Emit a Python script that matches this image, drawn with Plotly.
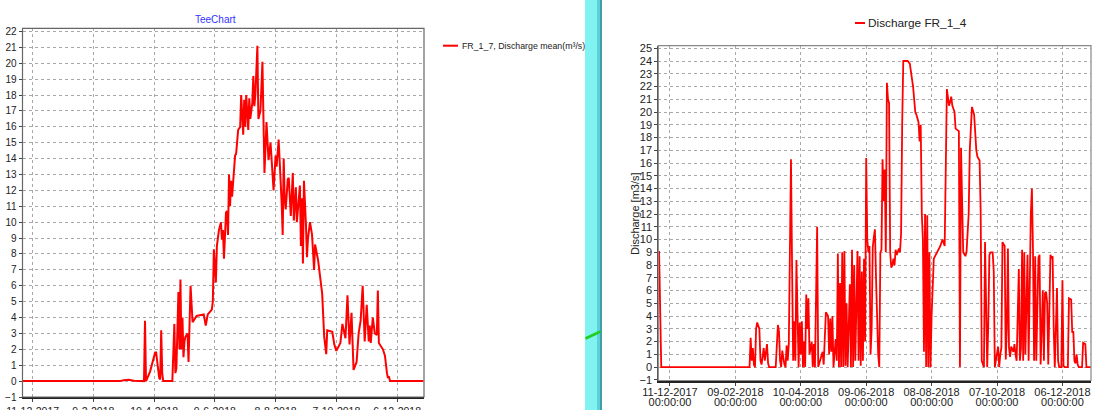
import pandas as pd
import plotly.graph_objects as go

# ---------------- data ----------------
BASE_DATE = "2017-12-01"   # day 0 of the day-offset arrays

# Left chart: FR_1_7, Discharge mean (m3/s)
fr17_day = [0, 96, 100, 105, 110, 119, 120, 121, 122, 126, 131, 132, 134, 135, 136, 137, 138, 139,
            148, 150, 151, 152, 154, 155, 156, 157, 158, 159, 160, 161, 163, 164, 166, 168, 172,
            179, 181, 183, 187, 188, 189, 191, 192, 194, 196, 197, 198, 199, 201, 202, 203, 204,
            205, 206, 207, 208, 210, 211, 213, 215, 216, 218, 219, 220, 221, 223, 224, 225, 227,
            228, 229, 230, 232, 233, 235, 236, 237, 238, 239, 241, 242, 243, 245, 246, 248, 250,
            251, 253, 254, 256, 257, 258, 259, 260, 262, 263, 265, 267, 268, 270, 271, 274, 275,
            276, 277, 278, 280, 281, 282, 284, 286, 288, 289, 292, 296, 298, 300, 301, 306, 308,
            310, 314, 316, 319, 321, 323, 325, 327, 330, 332, 334, 336, 338, 340, 342, 343, 344,
            346, 348, 350, 351, 352, 356, 358, 360, 361, 362, 363, 396]
fr17_val = [0, 0, 0.05, 0.08, 0.02, 0, 0, 3.8, 0, 0.6, 1.8, 1.8, 0.8, 0.2, 0.1, 3.2, 0.5, 0,
            0, 3.6, 0.5, 0.8, 5.6, 2.0, 6.4, 2.0, 4.0, 1.5, 2.5, 2.8, 3.0, 1.2, 6.0, 3.7, 4.1,
            4.2, 3.5, 4.2, 4.5, 5.0, 8.3, 6.2, 8.5, 9.5, 10.0, 8.9, 9.5, 7.7, 10.6, 10.7, 9.2, 13.0,
            11.0, 12.6, 11.6, 12.5, 14.2, 14.3, 15.8, 16.0, 18.0, 15.5, 17.7, 16.0, 18.0, 15.8, 17.8, 16.5, 17.5,
            19.2, 17.3, 18.0, 21.1, 16.5, 17.0, 18.5, 20.1, 16.5, 13.1, 16.3, 15.0, 13.9, 15.0, 14.0, 12.0, 14.2,
            13.5, 15.2, 14.0, 11.2, 9.2, 14.0, 11.5, 10.8, 12.7, 12.8, 10.4, 13.1, 10.1, 12.2, 10.0, 12.3, 8.5,
            11.5, 7.4, 12.6, 9.8, 7.8, 9.0, 10.0, 9.2, 7.0, 8.6, 7.6, 5.5, 2.8, 1.7, 3.2, 3.1, 2.3,
            1.9, 2.4, 3.6, 2.7, 5.4, 2.3, 4.3, 0.7, 1.2, 3.0, 3.8, 6.0, 2.5, 4.8, 2.5, 3.5, 2.4,
            4.0, 3.0, 2.9, 5.7, 2.4, 2.0, 1.6, 0.5, 0.2, 0.3, 0, 0]

# Right chart: Discharge FR_1_4 (m3/s)
fr14_day = [0, 1, 2, 83, 84, 85, 86, 87, 88, 89, 90, 92, 93, 94, 96, 97, 99, 100, 101,
            107, 109, 110, 111, 112, 113, 115, 116, 117, 118, 119, 120, 121, 122, 123, 124, 125,
            126, 127, 128, 129, 130, 131, 132, 133, 134, 135, 136, 137, 138, 140, 141, 142, 143,
            145, 146, 150, 151, 153, 155, 156, 157, 158, 159, 160, 162, 163, 164, 165, 166, 167,
            168, 169, 170, 171, 172, 173, 175, 176, 177, 178, 179, 180, 182, 183, 184, 185, 186,
            187, 188, 189, 190, 191, 192, 193, 194, 195, 196, 197, 198, 199, 200, 201, 202, 203,
            204, 205, 206, 207, 208, 209, 210, 211, 212, 213, 214, 215, 216, 217, 218, 219, 220,
            221, 222, 223, 224, 228, 230, 233, 235, 236, 237, 238, 239, 240, 241, 242, 243, 244,
            245, 246, 247, 248, 249, 250, 252, 255, 258, 260, 262, 264, 265, 266, 267, 268, 269,
            270, 271, 272, 274, 275, 276, 277, 278, 279, 281, 282, 284, 285, 287, 289, 291, 292,
            294, 295, 296, 297, 298, 299, 300, 301, 302, 303, 304, 306, 307, 308, 311, 312, 313,
            314, 315, 316, 317, 318, 319, 320, 321, 322, 323, 325, 326, 327, 328, 330, 331, 332,
            333, 334, 335, 336, 337, 338, 339, 340, 341, 342, 343, 344, 345, 346, 347, 348, 349,
            350, 351, 352, 353, 354, 355, 356, 357, 358, 359, 360, 361, 362, 363, 365, 366, 367,
            369, 370, 371, 372, 375, 376, 378, 379, 380, 381, 382, 383, 384, 385, 388, 389, 391,
            392, 396]
fr14_val = [9.1, 4.5, 0, 0, 2.3, 0.5, 1.5, 0.2, 0, 3.0, 3.5, 3.0, 0.5, 0.2, 1.5, 0.5, 1.8, 0.3, 0,
            0, 3.3, 2.8, 0.5, 0, 1.3, 0.2, 0, 1.7, 0.5, 1.8, 8.5, 16.3, 8.0, 0.5, 3.6, 0.5,
            8.4, 3.0, 0, 3.5, 1.0, 3.6, 0, 2.0, 0, 5.7, 3.0, 5.4, 1.0, 2.0, 0, 1.8, 0,
            11.0, 0, 1.2, 0.2, 4.3, 4.0, 1.0, 3.8, 1.2, 4.0, 0, 2.2, 0.5, 8.9, 0, 6.6, 0,
            9.0, 0, 9.1, 0.1, 5.0, 0, 6.5, 0, 9.2, 0, 8.0, 0.5, 9.1, 0.5, 8.7, 0.1, 7.5,
            0.5, 8.5, 2.0, 16.4, 10.0, 9.0, 9.5, 1.0, 3.0, 9.4, 10.2, 10.8, 7.0, 3.0, 1.0, 0, 9.0,
            9.2, 16.3, 13.0, 15.5, 9.0, 22.3, 21.0, 20.7, 9.0, 7.8, 8.0, 8.5, 8.0, 9.2, 8.8, 9.0, 9.3,
            9.0, 10.5, 19.0, 24.0, 24.0, 23.8, 22.0, 20.0, 19.8, 19.5, 19.2, 17.7, 19.0, 12.0, 10.0, 1.2, 12.0,
            0, 11.9, 0, 9.0, 0, 4.0, 8.5, 9.0, 9.5, 10.0, 9.5, 21.8, 21.0, 20.5, 20.8, 21.2, 20.5,
            20.3, 20.0, 18.7, 18.6, 18.5, 0, 17.2, 13.0, 9.0, 8.7, 9.0, 12.0, 17.0, 20.4, 19.8, 17.0, 16.5,
            16.2, 12.2, 0.5, 0.2, 0, 9.8, 5.0, 0, 3.5, 8.8, 9.0, 9.0, 7.5, 0, 1.6, 0, 1.0,
            1.5, 9.8, 9.6, 9.5, 0.6, 3.0, 9.3, 1.5, 0.8, 1.6, 1.2, 1.8, 1.0, 0.5, 7.7, 0.5, 1.5,
            9.2, 0.5, 9.0, 1.0, 5.0, 8.8, 0.5, 9.2, 12.0, 14.0, 9.2, 0.5, 8.7, 0.5, 4.0, 8.6, 8.8,
            0.2, 3.0, 6.0, 0.5, 5.8, 5.9, 5.0, 0.2, 4.0, 8.8, 8.5, 8.7, 3.0, 0, 6.2, 0.5, 0,
            0, 6.8, 0.1, 0, 0, 5.4, 5.3, 2.7, 2.8, 0.5, 0.3, 1.0, 0.2, 0, 0, 1.9, 1.8,
            0, 0]

tick_dates = ["2017-12-11", "2018-02-09", "2018-04-10", "2018-06-09", "2018-08-08", "2018-10-07", "2018-12-06"]
left_ticktext = ["11-12-2017", "9-2-2018", "10-4-2018", "9-6-2018", "8-8-2018", "7-10-2018", "6-12-2018"]
right_ticktext = ["11-12-2017", "09-02-2018", "10-04-2018", "09-06-2018", "08-08-2018", "07-10-2018", "06-12-2018"]
right_timetext = ["00:00:00"] * 7

left_title = "TeeChart"
left_legend = "FR_1_7, Discharge mean(m³/s)"
right_legend = "Discharge FR_1_4"
right_ytitle = "Discharge [m3/s]"

# ---------------- figure ----------------
W, H = 1104, 410
base = pd.Timestamp(BASE_DATE)
x17 = base + pd.to_timedelta(fr17_day, unit="D")
x14 = base + pd.to_timedelta(fr14_day, unit="D")

def px(x):
    return x / W

def py(y):
    return 1 - y / H

FONT = "Liberation Sans, Arial, sans-serif"
RED = "#ff0000"

fig = go.Figure()
fig.add_trace(go.Scatter(x=x17, y=fr17_val, mode="lines", line=dict(color=RED, width=2),
                         xaxis="x", yaxis="y", showlegend=False))
fig.add_trace(go.Scatter(x=x14, y=fr14_val, mode="lines", line=dict(color=RED, width=1.8),
                         xaxis="x2", yaxis="y2", showlegend=False))
# invisible trace carrying the second line of the right-hand date labels
fig.add_trace(go.Scatter(x=[x14[0]], y=[fr14_val[0]], mode="lines", line=dict(width=0),
                         opacity=0, xaxis="x3", yaxis="y2", showlegend=False, hoverinfo="skip"))

grid = dict(showgrid=True, gridcolor="#a8a8a8", griddash="dot", gridwidth=1, zeroline=False,
            automargin=False)

RIGHT_RANGE = ["2017-11-30 07:00", "2019-01-01 05:00"]

fig.update_layout(
    template="none",
    width=W, height=H, margin=dict(l=0, r=0, t=0, b=0, pad=0), autosize=False,
    paper_bgcolor="white", plot_bgcolor="white",
    font=dict(family=FONT, size=10, color="#222"),
    xaxis=dict(domain=[px(22.5), px(424)], type="date",
               range=["2017-12-01 00:00", "2019-01-01 14:00"],
               tickmode="array", tickvals=tick_dates, ticktext=left_ticktext,
               showline=True, linecolor="#222", linewidth=2,
               ticks="outside", ticklen=3, tickcolor="#444",
               tickfont=dict(size=10.5, color="#222"), anchor="y", **grid),
    yaxis=dict(domain=[py(397), py(28.3)], range=[-1, 22.2],
               tickmode="linear", tick0=-1, dtick=1,
               showline=True, linecolor="#444", linewidth=1,
               ticks="outside", ticklen=3, tickcolor="#444",
               tickfont=dict(size=10, color="#222"), anchor="x", **grid),
    xaxis2=dict(domain=[px(658.3), px(1091)], type="date", range=RIGHT_RANGE,
                tickmode="array", tickvals=tick_dates, ticktext=right_ticktext,
                showline=True, linecolor="#222", linewidth=2,
                ticks="outside", ticklen=3, tickcolor="#444", ticklabelstandoff=-3,
                tickfont=dict(size=11, color="#222"), anchor="y2", **grid),
    xaxis3=dict(domain=[px(658.3), px(1091)], type="date", range=RIGHT_RANGE,
                overlaying="x2", anchor="y2", side="bottom",
                tickmode="array", tickvals=tick_dates, ticktext=right_timetext,
                showline=False, showgrid=False, zeroline=False, automargin=False,
                ticks="outside", ticklen=3, tickcolor="rgba(0,0,0,0)", ticklabelstandoff=8,
                tickfont=dict(size=11, color="#222")),
    yaxis2=dict(domain=[py(380.5), py(45.7)], range=[-1.05, 25.2],
                tickmode="linear", tick0=-1, dtick=1,
                showline=True, linecolor="#444", linewidth=1,
                ticks="outside", ticklen=3, tickcolor="#444",
                tickfont=dict(size=11, color="#222"), anchor="x2", **grid),
)

shapes = [
    # plot frames
    dict(type="rect", xref="paper", yref="paper", x0=px(22.5), x1=px(424), y0=py(397), y1=py(28.3),
         line=dict(color="#666", width=1.2), fillcolor="rgba(0,0,0,0)"),
    dict(type="rect", xref="paper", yref="paper", x0=px(658.3), x1=px(1091), y0=py(380.5), y1=py(45.7),
         line=dict(color="#888", width=1.2), fillcolor="rgba(0,0,0,0)"),
    # divider bar
    dict(type="rect", xref="paper", yref="paper", x0=px(585), x1=px(597), y0=0, y1=1,
         line=dict(width=0), fillcolor="#80f2f2"),
    dict(type="rect", xref="paper", yref="paper", x0=px(597), x1=px(600), y0=0, y1=1,
         line=dict(width=0), fillcolor="#5fd0d8"),
    dict(type="rect", xref="paper", yref="paper", x0=px(600), x1=px(602), y0=0, y1=1,
         line=dict(width=0), fillcolor="#3f9ea8"),
    dict(type="line", xref="paper", yref="paper", x0=px(585.5), x1=px(600.5), y0=py(338.5), y1=py(331.5),
         line=dict(color="#20d020", width=3)),
    # legend samples
    dict(type="line", xref="paper", yref="paper", x0=px(443), x1=px(458), y0=py(45.7), y1=py(45.7),
         line=dict(color=RED, width=2)),
    dict(type="line", xref="paper", yref="paper", x0=px(855), x1=px(865), y0=py(23), y1=py(23),
         line=dict(color=RED, width=2)),
]
fig.update_layout(shapes=shapes)

fig.add_annotation(text=left_title, xref="paper", yref="paper", x=px(215), y=py(19),
                   xanchor="center", yanchor="middle",
                   showarrow=False, font=dict(size=10, color="#3333ff", family=FONT))
fig.add_annotation(text=left_legend, xref="paper", yref="paper", x=px(460), y=py(45.7),
                   xanchor="left", yanchor="middle",
                   showarrow=False, font=dict(size=8.8, color="#222", family=FONT))
fig.add_annotation(text=right_legend, xref="paper", yref="paper", x=px(866), y=py(23),
                   xanchor="left", yanchor="middle",
                   showarrow=False, font=dict(size=11.8, color="#222", family=FONT))
fig.add_annotation(text=right_ytitle, xref="paper", yref="paper", x=px(635), y=py(213),
                   xanchor="center", yanchor="middle",
                   textangle=-90, showarrow=False, font=dict(size=11, color="#222", family=FONT))

fig.write_html("out.html", config={"displayModeBar": False},
               post_script="document.body.style.margin='0';document.body.style.overflow='hidden';")
